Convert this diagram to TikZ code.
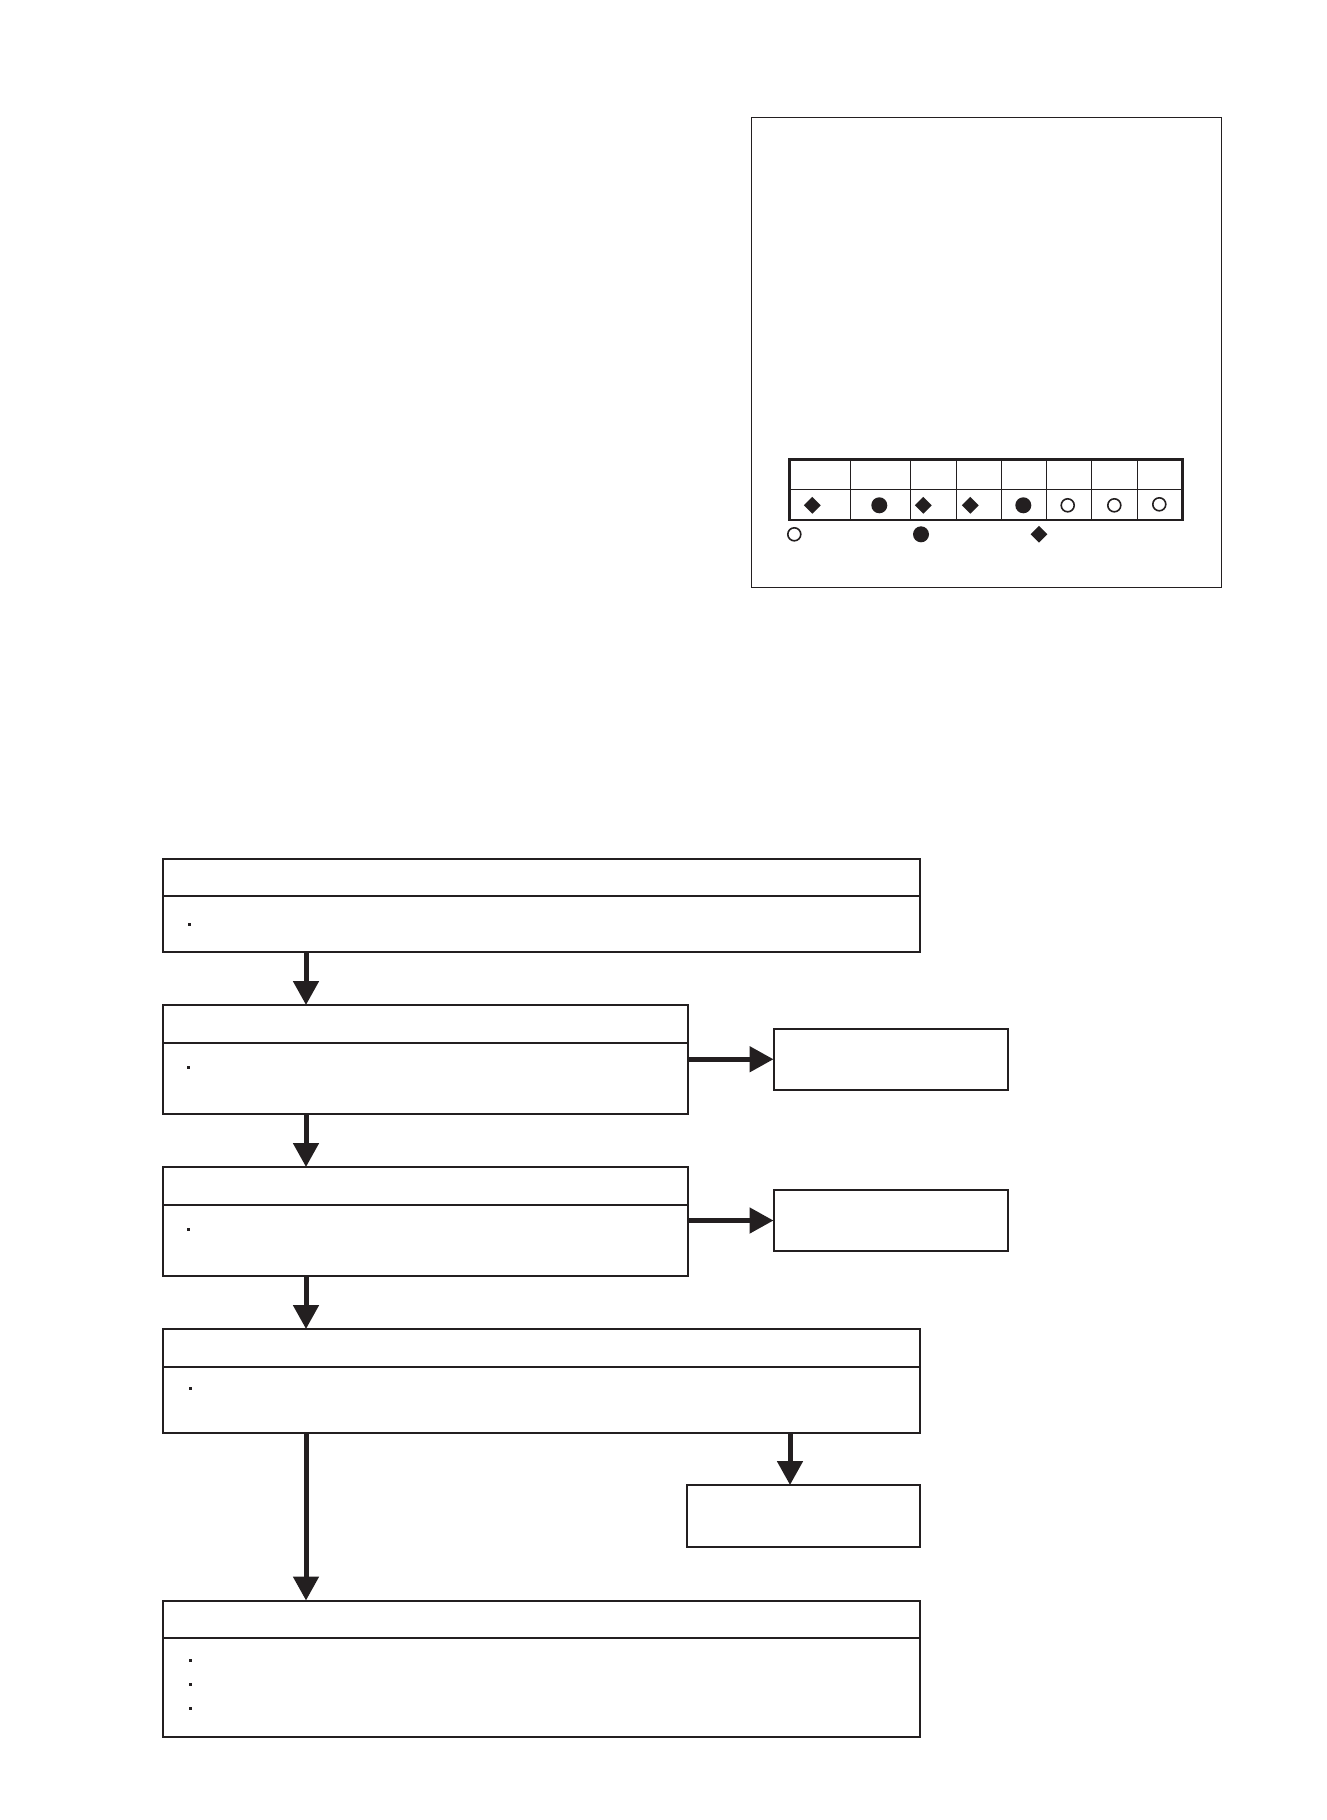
\documentclass[tikz,border=0pt]{standalone}
\usetikzlibrary{arrows.meta,shapes.geometric}
\definecolor{ink}{HTML}{231F20}
\begin{document}
\begin{tikzpicture}[x=1pt,y=-1pt,
  box/.style={draw=ink, line width=2pt, rectangle, inner sep=0pt, outer sep=0pt, anchor=north west},
  thinbox/.style={draw=ink, line width=1.5pt, rectangle, inner sep=0pt, outer sep=0pt, anchor=north west},
  arr/.style={draw=ink, line width=5pt, -{Triangle[length=24pt,width=25pt]}},
  bul/.style={fill=ink, rectangle, inner sep=0pt, minimum size=3pt},
  dia/.style={diamond, fill=ink, inner sep=0pt, minimum width=17pt, minimum height=17pt},
  fdot/.style={circle, fill=ink, inner sep=0pt, minimum size=16pt},
  odot/.style={circle, draw=ink, line width=1.6pt, fill=white, inner sep=0pt, minimum size=13pt}]
\useasboundingbox (0,0) rectangle (1326,1820);
\fill[white] (0,0) rectangle (1326,1820);

% top-right panel
\node[thinbox, minimum width=470pt, minimum height=470pt] (panel) at (751.5,117.5) {};
\node[draw=ink, line width=2.5pt, rectangle, inner sep=0pt, outer sep=0pt, anchor=north west,
  minimum width=393pt, minimum height=60.5pt] (tab) at (789.5,459.5) {};
\draw[ink, line width=1.5pt] (789.5,489.5) -- (1182.5,489.5);
\foreach \cx in {850.5,910.5,956.5,1001.5,1046.5,1091.5,1137.5}
  \draw[ink, line width=1.5pt] (\cx,459.5) -- (\cx,520);
\node[dia] (s1) at (812.3,505.3) {};
\node[fdot] (s2) at (879.3,505.3) {};
\node[dia] (s3) at (923.3,505.3) {};
\node[dia] (s4) at (970.3,505.3) {};
\node[fdot] (s5) at (1023.3,505.3) {};
\node[odot] (s6) at (1067.7,505.3) {};
\node[odot] (s7) at (1114.3,505.3) {};
\node[odot] (s8) at (1159.3,504.3) {};
\node[odot] (l1) at (794.3,534.3) {};
\node[fdot] (l2) at (921,534.3) {};
\node[dia] (l3) at (1039,534.3) {};

% flowchart
\node[box, minimum width=757pt, minimum height=37.5pt] (h1) at (162.5,858.5) {};
\node[box, minimum width=757pt, minimum height=55.5pt] (b1) at (162.5,896) {};
\node[box, minimum width=525pt, minimum height=37.5pt] (h2) at (162.5,1005) {};
\node[box, minimum width=525pt, minimum height=71pt] (b2) at (162.5,1042.5) {};
\node[box, minimum width=525pt, minimum height=37.5pt] (h3) at (162.5,1167) {};
\node[box, minimum width=525pt, minimum height=71pt] (b3) at (162.5,1204.5) {};
\node[box, minimum width=757pt, minimum height=37.5pt] (h4) at (162.5,1329) {};
\node[box, minimum width=757pt, minimum height=66pt] (b4) at (162.5,1366.5) {};
\node[box, minimum width=757pt, minimum height=37pt] (h5) at (162.5,1600.5) {};
\node[box, minimum width=757pt, minimum height=99pt] (b5) at (162.5,1637.5) {};

\node[box, minimum width=234pt, minimum height=61.5pt] (side1) at (773.5,1028.5) {};
\node[box, minimum width=234pt, minimum height=61pt] (side2) at (773.5,1190) {};
\node[box, minimum width=233pt, minimum height=61.5pt] (side3) at (686.5,1485) {};

% bullets
\node[bul] (p1) at (189.3,924.3) {};
\node[bul] (p2) at (188.3,1067.3) {};
\node[bul] (p3) at (188.3,1229.5) {};
\node[bul] (p4) at (190.7,1388.3) {};
\node[bul] (p5) at (190.7,1660.3) {};
\node[bul] (p6) at (190.7,1684.3) {};
\node[bul] (p7) at (190.7,1708.7) {};

% connectors
\coordinate (xa) at (306,0);
\coordinate (xb) at (790,0);
\draw[arr] (b1.south -| xa) -- (h2.north -| xa);
\draw[arr] (b2.south -| xa) -- (h3.north -| xa);
\draw[arr] (b3.south -| xa) -- (h4.north -| xa);
\draw[arr] (b4.south -| xa) -- (h5.north -| xa);
\draw[arr] (b2.east |- side1.west) -- (side1.west);
\draw[arr] (b3.east |- side2.west) -- (side2.west);
\draw[arr] (b4.south -| xb) -- (side3.north -| xb);
\end{tikzpicture}
\end{document}
